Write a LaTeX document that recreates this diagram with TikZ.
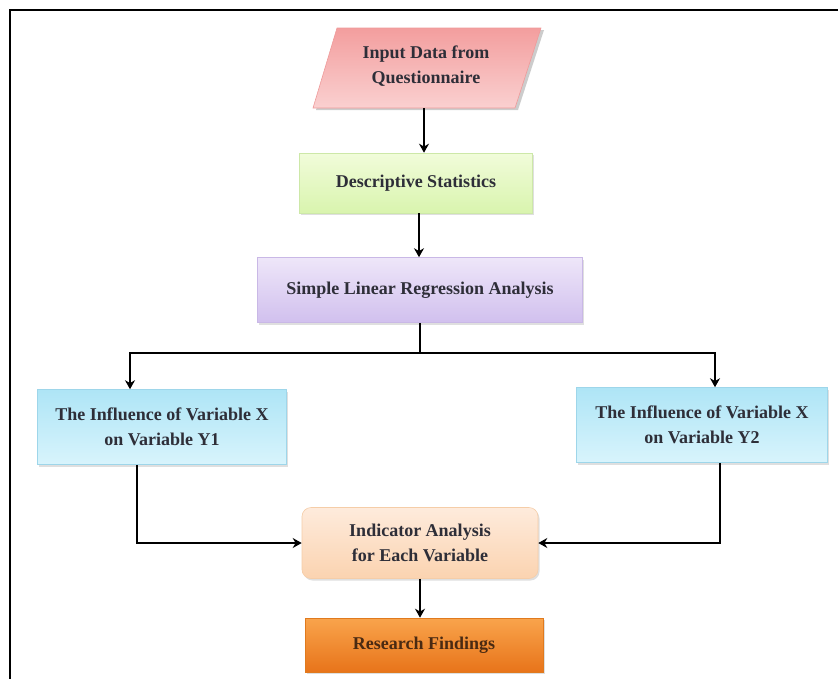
\documentclass[tikz,border=0pt]{standalone}
\usepackage{fontspec}
\setmainfont{Liberation Serif}
\usetikzlibrary{arrows.meta,shadows,calc}
\definecolor{txt}{HTML}{2E2E38}
\definecolor{pinkT}{HTML}{F39E9E}
\definecolor{pinkB}{HTML}{FAD0D0}
\definecolor{pinkD}{HTML}{EE9A9A}
\definecolor{grnD}{HTML}{CDE8A8}
\definecolor{grnT}{HTML}{F1FCDA}
\definecolor{grnB}{HTML}{D9F4AE}
\definecolor{purD}{HTML}{C9B8E6}
\definecolor{purT}{HTML}{EEE6F9}
\definecolor{purB}{HTML}{D1C0EE}
\definecolor{bluD}{HTML}{9ED6EA}
\definecolor{bluT}{HTML}{AEE5F6}
\definecolor{bluB}{HTML}{D8F4FC}
\definecolor{indD}{HTML}{F5CDA8}
\definecolor{indT}{HTML}{FEEBDC}
\definecolor{indB}{HTML}{FBD3B0}
\definecolor{resD}{HTML}{E07A1E}
\definecolor{resT}{HTML}{F9A44C}
\definecolor{resB}{HTML}{E8741A}
\definecolor{resX}{HTML}{4A2A12}
\begin{document}
\begin{tikzpicture}[x=1pt,y=-1pt,
  box/.style={draw=#1, line width=0.6pt, align=center, font=\fontsize{18}{25}\selectfont\bfseries, text=txt,
    inner sep=2pt, drop shadow={opacity=0.25, shadow xshift=1.5pt, shadow yshift=-2pt}},
  arr/.style={line width=2.8pt, -{Stealth[length=9pt,width=10pt]}},
  ln/.style={line width=2.8pt}]
\useasboundingbox (0,0) rectangle (838,678);
\draw[line width=1.3pt] (10,700) -- (10,10) -- (850,10);
% input parallelogram
\node[inner sep=0pt, minimum width=200, minimum height=80] (input) at (424,68) {};
\path[fill=black, opacity=0.2] (339,30) -- (544,30) -- (518,110) -- (316,110) -- cycle;
\shade[top color=pinkT, bottom color=pinkB, draw=pinkD, line width=0.6pt]
  (337,28) -- (541,28) -- (515,108) -- (313,108) -- cycle;
\node[align=center, font=\fontsize{18}{25}\selectfont\bfseries, text=txt] (inputtext) at (426,66) {Input Data from\\Questionnaire};
% boxes
\node[box=grnD, top color=grnT, bottom color=grnB, minimum width=233, minimum height=60] (desc) at (416,183) {Descriptive Statistics};
\node[box=purD, top color=purT, bottom color=purB, minimum width=325, minimum height=65] (slr) at (420,290) {Simple Linear Regression Analysis};
\node[box=bluD, top color=bluT, bottom color=bluB, minimum width=249, minimum height=75] (left) at (162,427) {The Influence of Variable X\\on Variable Y1};
\node[box=bluD, top color=bluT, bottom color=bluB, minimum width=251, minimum height=75] (right) at (702,425) {The Influence of Variable X\\on Variable Y2};
\node[box=indD, rounded corners=9pt, top color=indT, bottom color=indB, minimum width=236, minimum height=71] (ind) at (420,543) {Indicator Analysis\\for Each Variable};
\node[box=resD, top color=resT, bottom color=resB, text=resX, minimum width=238, minimum height=54] (res) at (424,645) {Research Findings};
% connectors
\draw[arr] (input.south) -- (input.south |- desc.north);
\draw[arr] (desc.south -| 419,0) -- (slr.north -| 419,0);
\coordinate (split) at (420,353);
\coordinate (jl) at (130,353);
\coordinate (jr) at (715,353);
\draw[ln] (slr.south) -- (split);
\draw[arr] (split) -- (jl) -- (jl |- left.north);
\draw[arr] (split) -- (jr) -- (jr |- right.north);
\draw[arr] ([xshift=-25pt]left.south) |- (ind.west);
\draw[arr] ([xshift=18pt]right.south) |- (ind.east);
\draw[arr] (ind.south) -- (ind.south |- res.north);
\end{tikzpicture}
\end{document}
